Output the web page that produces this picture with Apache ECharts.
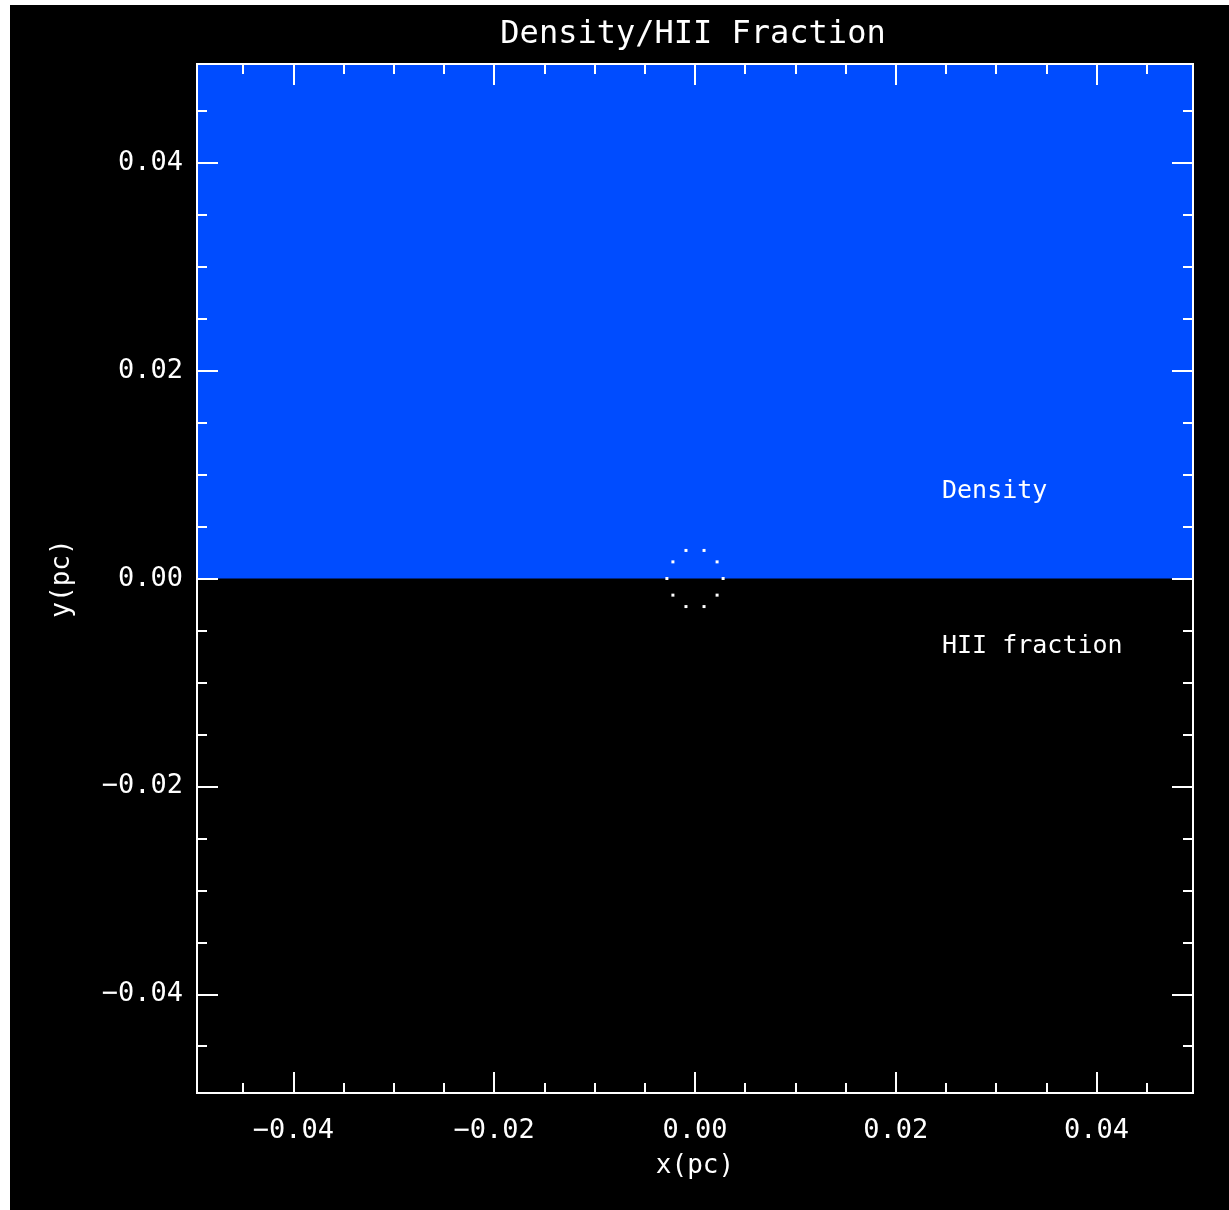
<!DOCTYPE html>
<html>
<head>
<meta charset="utf-8">
<script src="https://cdn.jsdelivr.net/npm/echarts@6/dist/echarts.min.js"></script>
<style>
  html, body { margin: 0; padding: 0; background: #ffffff; width: 1229px; height: 1210px; overflow: hidden; }
  #chart { position: absolute; left: 10px; top: 5px; width: 1219px; height: 1205px; background: #000; }
</style>
</head>
<body>
<div id="chart"></div>
<script>
// Plot extent (pc)
const xRange = [-0.0496, 0.0496];
const yRange = [-0.0495, 0.0495];

// Tick positions (pc)
const majorTicks = [-0.04, -0.02, 0.00, 0.02, 0.04];
const minorTicks = [-0.045, -0.035, -0.03, -0.025, -0.015, -0.01, -0.005,
                    0.005, 0.01, 0.015, 0.025, 0.03, 0.035, 0.045];

// Density panel occupies the upper half: [x0, y0] to [x1, y1]
const densityX = [-0.0496, 0.0496];
const densityY = [0.0, 0.0495];

// Ionisation front marker points (x, y in pc)
const frontX = [0.0028, 0.0022, 0.0009, -0.0009, -0.0022, -0.0028, -0.0022, -0.0009, 0.0009, 0.0022];
const frontY = [0.0, 0.0016, 0.0027, 0.0027, 0.0016, 0.0, -0.0016, -0.0027, -0.0027, -0.0016];

// Panel captions and their anchor points (pc)
const captions = ['Density', 'HII fraction'];
const captionX = [0.0246, 0.0246];
const captionY = [0.0084, -0.0065];

const FONT = 'DejaVu Sans Mono';
const WHITE = '#ffffff';

function fmt(v) {
  return (v < 0 ? '\u2212' : '') + Math.abs(v).toFixed(2);
}

function tickAxis(kind, position, values, len, labels) {
  const rng = kind === 'x' ? xRange : yRange;
  const ax = {
    type: 'value',
    z: 10,
    position: position,
    min: rng[0],
    max: rng[1],
    splitLine: { show: false },
    axisLine: { show: true, onZero: false, lineStyle: { color: WHITE, width: 2 } },
    axisLabel: { show: false },
    axisTick: { show: true, inside: true, length: len, customValues: values,
                lineStyle: { color: WHITE, width: 2 } }
  };
  if (labels) {
    ax.axisLabel = {
      show: true, customValues: values, formatter: fmt,
      color: WHITE, fontFamily: FONT, fontSize: 27,
      margin: kind === 'x' ? 24 : 14
    };
  }
  return ax;
}

const xAxes = [
  Object.assign(tickAxis('x', 'bottom', majorTicks, 21, true), {
    name: 'x(pc)', nameLocation: 'middle', nameGap: 60,
    nameTextStyle: { color: WHITE, fontFamily: FONT, fontSize: 26 }
  }),
  tickAxis('x', 'bottom', minorTicks, 10, false),
  tickAxis('x', 'top', majorTicks, 21, false),
  tickAxis('x', 'top', minorTicks, 10, false)
];
const yAxes = [
  Object.assign(tickAxis('y', 'left', majorTicks, 21, true), {
    name: 'y(pc)', nameLocation: 'middle', nameGap: 122,
    nameTextStyle: { color: WHITE, fontFamily: FONT, fontSize: 26 }
  }),
  tickAxis('y', 'left', minorTicks, 10, false),
  tickAxis('y', 'right', majorTicks, 21, false),
  tickAxis('y', 'right', minorTicks, 10, false)
];

const chart = echarts.init(document.getElementById('chart'), null, { renderer: 'canvas' });

chart.setOption({
  backgroundColor: '#000000',
  animation: false,
  graphic: [{
    type: 'text', x: 683, y: 30,
    style: { text: 'Density/HII Fraction', fill: WHITE, font: '32px "' + FONT + '"',
             align: 'center', verticalAlign: 'middle' }
  }],
  grid: { left: 187, top: 59, width: 996, height: 1029, containLabel: false },
  xAxis: xAxes,
  yAxis: yAxes,
  series: [
    {
      name: 'Density',
      type: 'scatter',
      xAxisIndex: 0, yAxisIndex: 0,
      data: [],
      silent: true,
      markArea: {
        silent: true,
        itemStyle: { color: '#004cff', opacity: 1 },
        data: [[{ coord: [densityX[0], densityY[0]] }, { coord: [densityX[1], densityY[1]] }]]
      },
      z: 1
    },
    {
      name: 'Front',
      type: 'scatter',
      xAxisIndex: 0, yAxisIndex: 0,
      symbol: 'rect',
      symbolSize: 3,
      itemStyle: { color: WHITE, opacity: 1 },
      data: frontX.map((x, i) => [x, frontY[i]]),
      z: 5
    },
    {
      name: 'Captions',
      type: 'scatter',
      xAxisIndex: 0, yAxisIndex: 0,
      symbolSize: 0,
      itemStyle: { opacity: 1 },
      data: captions.map((c, i) => ({ name: c, value: [captionX[i], captionY[i]] })),
      label: {
        show: true, position: 'right', distance: 0,
        formatter: p => p.name,
        color: WHITE, opacity: 1, fontFamily: FONT, fontSize: 25
      },
      z: 6
    }
  ]
});
</script>
</body>
</html>
